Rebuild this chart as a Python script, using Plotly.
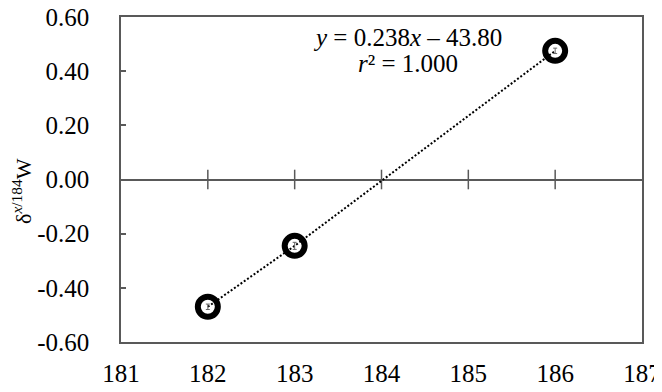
import plotly.graph_objects as go

mass = [182, 183, 186]
delta = [-0.470, -0.245, 0.475]
errors = [0.010, 0.013, 0.010]
x_ticks = [181, 182, 183, 184, 185, 186, 187]
y_ticks = [-0.6, -0.4, -0.2, 0.0, 0.2, 0.4, 0.6]
y_labels = ["-0.60", "-0.40", "-0.20", "0.00", "0.20", "0.40", "0.60"]
eq_line1 = "<i>y</i> = 0.238<i>x</i> – 43.80"
eq_line2 = "<i>r</i>² = 1.000"
y_title = "δ<sup><i>x</i>/184</sup>W"

FONT = "Liberation Serif, Times New Roman, DejaVu Serif, serif"
AX = "#595959"

fig = go.Figure()

# tick marks crossing the zero line (Excel-style horizontal axis at y=0)
fig.add_trace(go.Scatter(
    x=x_ticks[1:-1], y=[0] * (len(x_ticks) - 2), mode="markers",
    marker=dict(symbol="line-ns-open", size=14, color=AX,
                line=dict(width=1.5, color=AX)),
    hoverinfo="skip", showlegend=False))

# trendline (dotted)
fig.add_trace(go.Scatter(
    x=mass, y=delta, mode="lines",
    line=dict(color="black", width=2, dash="2px,2px"),
    hoverinfo="skip", showlegend=False))

# data points
fig.add_trace(go.Scatter(
    x=mass, y=delta, mode="markers",
    marker=dict(symbol="circle-open", size=20, color="black",
                line=dict(width=6, color="black")),
    error_y=dict(type="data", array=errors, thickness=1, width=2, color="#666666"),
    showlegend=False))

fig.add_annotation(
    x=184.3, y=0.526, xref="x", yref="y", xanchor="center", yanchor="middle",
    text=eq_line1, showarrow=False,
    font=dict(family=FONT, size=25, color="black"))
fig.add_annotation(
    x=184.3, y=0.43, xref="x", yref="y", xanchor="center", yanchor="middle",
    text=eq_line2, showarrow=False,
    font=dict(family=FONT, size=25, color="black"))

# y-axis title
fig.add_annotation(
    x=-0.19, y=0.465, xref="paper", yref="paper", xanchor="center", yanchor="middle",
    text=y_title, textangle=-90, showarrow=False,
    font=dict(family=FONT, size=22, color="black"))

fig.update_xaxes(
    range=[181, 187], tickvals=x_ticks, ticktext=[str(v) for v in x_ticks],
    showline=True, linecolor=AX, linewidth=1.5, mirror=True,
    showgrid=False, zeroline=False, ticks="", ticklabelstandoff=8,
    automargin=False, ticklabeloverflow="allow",
    tickfont=dict(family=FONT, size=25, color="black"))

fig.update_yaxes(
    range=[-0.6, 0.6], tickvals=y_ticks, ticktext=y_labels,
    showline=True, linecolor=AX, linewidth=1.5, mirror=True,
    showgrid=False, zeroline=True, zerolinecolor=AX, zerolinewidth=1.5,
    ticks="inside", ticklen=5, tickcolor=AX, tickwidth=1.5, ticklabelstandoff=25,
    automargin=False, ticklabeloverflow="allow",
    tickfont=dict(family=FONT, size=25, color="black"))

fig.update_layout(
    width=654, height=384,
    margin=dict(l=113, r=20, t=9, b=50),
    paper_bgcolor="white", plot_bgcolor="white",
    font=dict(family=FONT, color="black"))

fig.write_html("out.html")
